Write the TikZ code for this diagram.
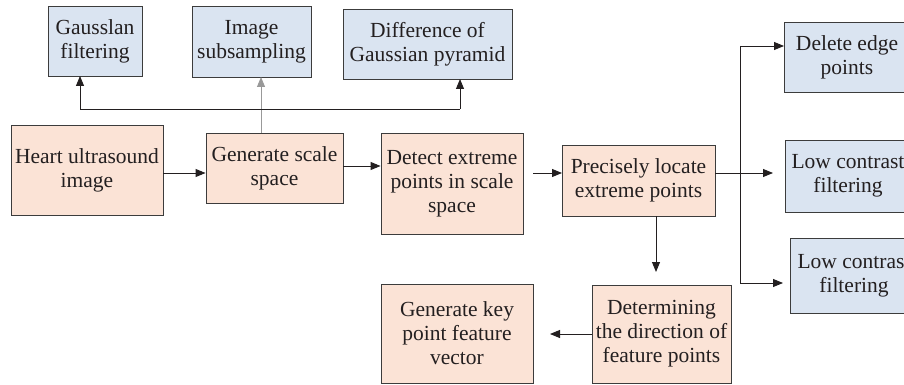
\documentclass[tikz,border=0pt]{standalone}
\usepackage{fontspec}
\setmainfont{Liberation Serif}
\newfontfamily\nodefont{Liberation Serif}
\usetikzlibrary{arrows.meta}
\definecolor{pinkfill}{RGB}{251,227,214}
\definecolor{bluefill}{RGB}{218,228,241}
\definecolor{edgecol}{RGB}{60,60,60}
\definecolor{linecol}{RGB}{35,31,32}
\tikzset{
  box/.style={draw=edgecol, line width=0.9pt, inner sep=0pt, align=center,
    font=\nodefont\fontsize{21.5}{24}\selectfont, text=linecol},
  pbox/.style={box, fill=pinkfill},
  bbox/.style={box, fill=bluefill},
  conn/.style={draw=linecol, line width=0.9pt},
  arr/.style={conn, -{Triangle[length=10pt,width=8pt]}},
}
\begin{document}
\begin{tikzpicture}[x=1pt,y=-1pt]
\useasboundingbox (0,0) rectangle (904,385);
\clip (0,0) rectangle (904,385);
% top blue boxes
\node[bbox, minimum width=94pt, minimum height=70pt] (gauss) at (95,41) {Gausslan\\filtering};
\node[bbox, minimum width=119pt, minimum height=71pt] (sub) at (251.5,41.5) {Image\\subsampling};
\node[bbox, minimum width=169pt, minimum height=70pt] (dog) at (427.5,44) {Difference of\\Gaussian pyramid};
% main row
\node[pbox, minimum width=152pt, minimum height=90pt] (heart) at (87,170) {Heart ultrasound\\image};
\node[pbox, minimum width=137pt, minimum height=70pt] (gen) at (274.5,168) {Generate scale\\space};
\node[pbox, minimum width=142pt, minimum height=101pt] (detect) at (452,183.5) {Detect extreme\\points in scale\\space};
\node[pbox, minimum width=153pt, minimum height=71pt] (prec) at (638.5,180.5) {Precisely locate\\extreme points};
% right blue boxes
\node[bbox, minimum width=126pt, minimum height=70pt] (del) at (847,57) {Delete edge\\points};
\node[bbox, minimum width=126pt, minimum height=72pt] (low1) at (848,176) {Low contrast\\filtering};
\node[bbox, minimum width=128pt, minimum height=75pt] (low2) at (854,275.5) {Low contrast\\filtering};
% bottom row
\node[pbox, minimum width=139pt, minimum height=98pt] (dir) at (661.5,334) {Determining\\the direction of\\feature points};
\node[pbox, minimum width=152pt, minimum height=99pt] (key) at (457,333.5) {Generate key\\point feature\\vector};
% coordinates
\coordinate (gtop) at (261,133);
\coordinate (subbot) at (261,77);
\coordinate (hl) at (80,109);
\coordinate (hr) at (460,109);
\coordinate (gaussbot) at (80,76);
\coordinate (dogbot) at (460,79);
\coordinate (dstart) at (533,173);
\coordinate (pend) at (562,173);
\coordinate (pout) at (715,173);
\coordinate (low1end) at (773,173);
\coordinate (btop) at (740,46);
\coordinate (bbot) at (740,283);
\coordinate (delend) at (784,46);
\coordinate (low2end) at (783,283);
\coordinate (pdown) at (656,216);
\coordinate (dirend) at (656,272);
\coordinate (dirout) at (592,334);
\coordinate (keyend) at (550,334);
% connectors
\draw[arr] (heart.east |- 0,173) -- (gen.west |- 0,173);
\draw[arr] (gen.east |- 0,166) -- (detect.west |- 0,166);
\draw[arr] (dstart) -- (pend);
\draw[draw=gray!80, line width=0.9pt, -{Triangle[length=10pt,width=8pt]}] (gtop) -- (subbot);
\draw[conn] (hl) -- (hr);
\draw[arr] (hl) -- (gaussbot);
\draw[arr] (hr) -- (dogbot);
\draw[arr] (pout) -- (low1end);
\draw[conn] (btop) -- (bbot);
\draw[arr] (btop) -- (delend);
\draw[arr] (bbot) -- (low2end);
\draw[arr] (pdown) -- (dirend);
\draw[arr] (dirout) -- (keyend);
\end{tikzpicture}
\end{document}
